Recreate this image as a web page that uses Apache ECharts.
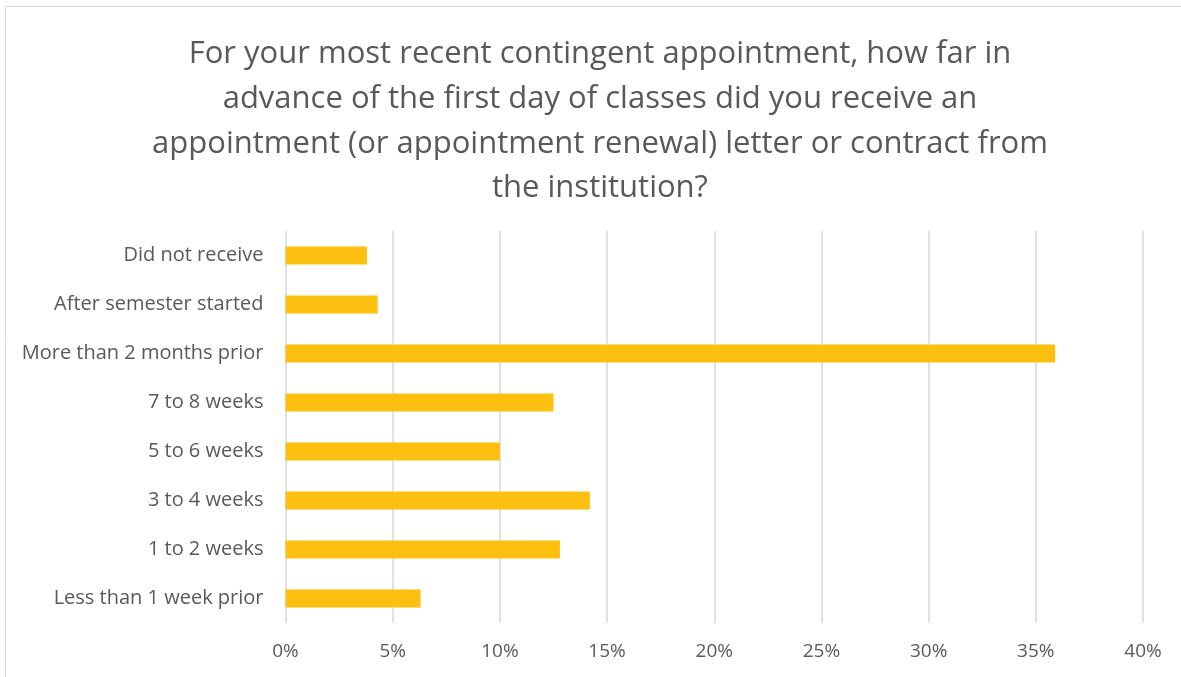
<!DOCTYPE html>
<html>
<head>
<meta charset="utf-8">
<script src="https://cdn.jsdelivr.net/npm/echarts@6/dist/echarts.min.js"></script>
<style>
  html, body { margin: 0; padding: 0; background: #fff; }
  #chart { width: 1181px; height: 677px; }
</style>
</head>
<body>
<div id="chart"></div>
<script>
// categories listed bottom to top (category axis starts at the bottom)
var categories = [
  "Less than 1 week prior",
  "1 to 2 weeks",
  "3 to 4 weeks",
  "5 to 6 weeks",
  "7 to 8 weeks",
  "More than 2 months prior",
  "After semester started",
  "Did not receive"
];
var shares = [6.3, 12.8, 14.2, 10.0, 12.5, 35.9, 4.3, 3.8];
var tickValues = [0, 5, 10, 15, 20, 25, 30, 35, 40];

var titleText = "For your most recent contingent appointment, how far in\n" +
  "advance of the first day of classes did you receive an\n" +
  "appointment (or appointment renewal) letter or contract from\n" +
  "the institution?";

var font = "'Open Sans', sans-serif";
var myChart = echarts.init(document.getElementById("chart"));
var option = {
  backgroundColor: "#fff",
  animation: false,
  graphic: [{
    type: "rect",
    shape: { x: 5.5, y: 6.5, width: 1180, height: 680 },
    style: { fill: "none", stroke: "#d9d9d9", lineWidth: 1 }
  }],
  title: {
    text: titleText,
    left: 595,
    textAlign: "center",
    top: 27,
    textStyle: {
      fontFamily: font,
      fontSize: 31,
      fontWeight: "normal",
      color: "#595959",
      lineHeight: 44.7,
      align: "center"
    }
  },
  grid: { left: 285.5, right: 38, top: 231, bottom: 54 },
  xAxis: {
    type: "value",
    min: tickValues[0],
    max: tickValues[tickValues.length - 1],
    interval: 5,
    axisLine: { show: false },
    axisTick: { show: false },
    splitLine: { lineStyle: { color: "#d9d9d9", width: 1.5 } },
    axisLabel: {
      margin: 19,
      fontFamily: font,
      fontSize: 19,
      color: "#595959",
      formatter: function (v) { return v + "%"; }
    }
  },
  yAxis: {
    type: "category",
    data: categories,
    axisLine: { show: false },
    axisTick: { show: false },
    axisLabel: {
      margin: 22,
      fontFamily: font,
      fontSize: 20,
      color: "#595959"
    }
  },
  series: [{
    type: "bar",
    data: shares,
    barWidth: 18,
    itemStyle: { color: "#FDC010" }
  }]
};
myChart.setOption(option);
</script>
</body>
</html>
